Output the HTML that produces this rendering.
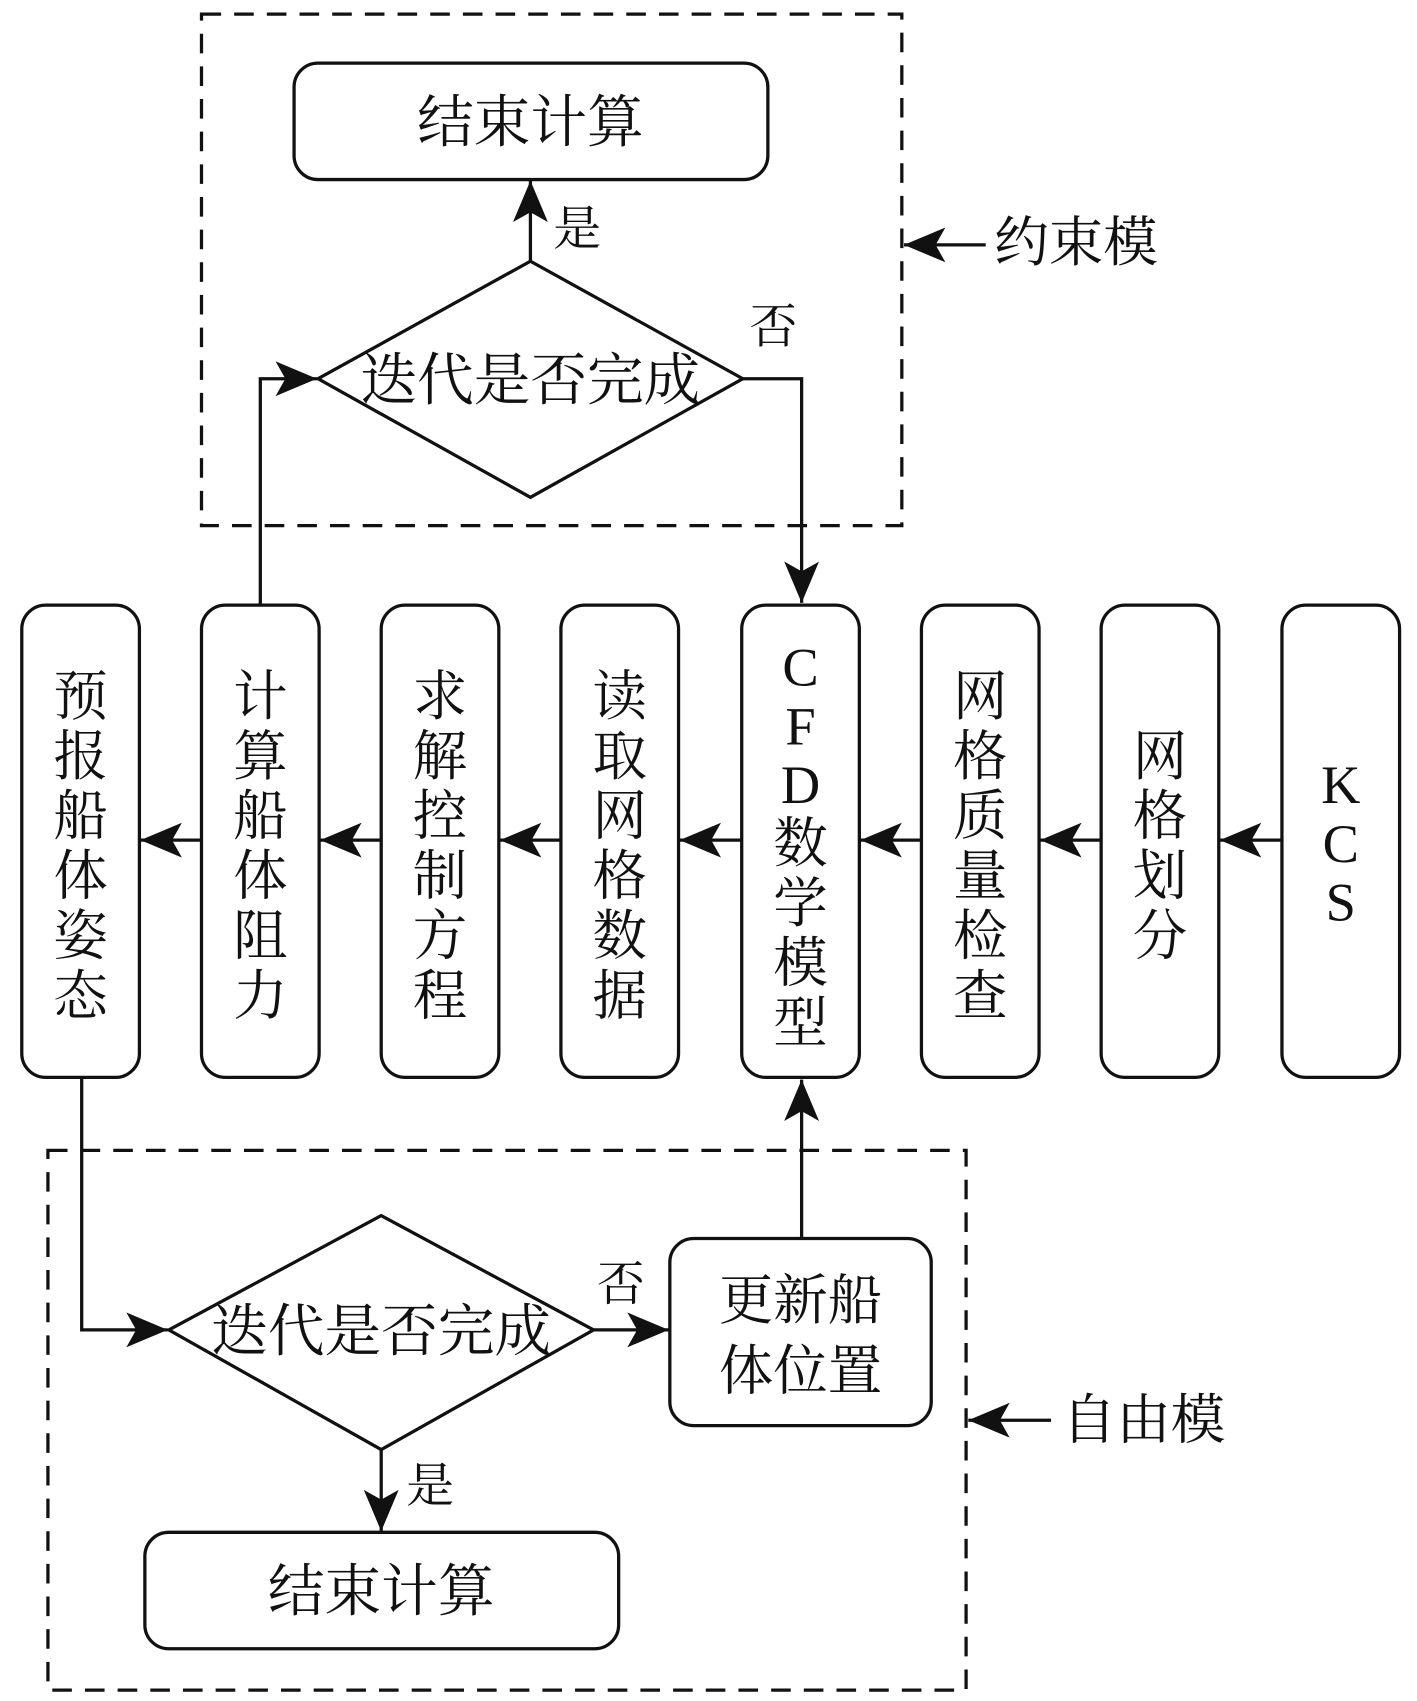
<!DOCTYPE html>
<html><head><meta charset="utf-8"><style>
html,body{margin:0;padding:0;background:#fff}
svg{display:block}
text{font-family:"Liberation Serif","Noto Serif CJK SC","Noto Serif CJK JP",serif;fill:#111}
</style></head><body>
<svg width="1417" height="1701" viewBox="0 0 1301 1563" preserveAspectRatio="none" xmlns="http://www.w3.org/2000/svg">
<defs>
<marker id="a" markerUnits="userSpaceOnUse" markerWidth="40" markerHeight="34" refX="38" refY="16" orient="auto">
<path d="M0,0 L38,16 L0,32 L9,16 Z" fill="#111"/>
</marker>
</defs>
<g fill="none" stroke="#111" stroke-width="3">
<rect x="185" y="13" width="643" height="470" stroke-dasharray="18,12"/>
<rect x="44" y="1057" width="843" height="496" stroke-dasharray="18,12"/>
<rect x="270" y="58" width="435" height="107" rx="22"/>
<rect x="133" y="1408" width="435" height="107" rx="22"/>
<rect x="615" y="1138" width="240" height="172" rx="22"/>
<polygon points="292,348 487,240 682,348 487,457"/>
<polygon points="155,1222 350,1117 545,1222 350,1332"/>
<rect x="20" y="556" width="108" height="434" rx="22"/>
<rect x="185" y="556" width="108" height="434" rx="22"/>
<rect x="350" y="556" width="108" height="434" rx="22"/>
<rect x="515" y="556" width="108" height="434" rx="22"/>
<rect x="681" y="556" width="108" height="434" rx="22"/>
<rect x="846" y="556" width="108" height="434" rx="22"/>
<rect x="1011" y="556" width="108" height="434" rx="22"/>
<rect x="1177" y="556" width="108" height="434" rx="22"/>
<g marker-end="url(#a)">
<line x1="487" y1="240" x2="487" y2="166"/>
<polyline points="682,348 736,348 736,554"/>
<polyline points="239,556 239,348 291,348"/>
<line x1="905" y1="225" x2="830" y2="225"/>
<line x1="1177" y1="772" x2="1120" y2="772"/>
<line x1="1011" y1="772" x2="955" y2="772"/>
<line x1="846" y1="772" x2="790" y2="772"/>
<line x1="681" y1="772" x2="624" y2="772"/>
<line x1="515" y1="772" x2="459" y2="772"/>
<line x1="350" y1="772" x2="294" y2="772"/>
<line x1="185" y1="772" x2="129" y2="772"/>
<polyline points="75,990 75,1222 154,1222"/>
<line x1="545" y1="1222" x2="614" y2="1222"/>
<line x1="736" y1="1138" x2="736" y2="992"/>
<line x1="350" y1="1332" x2="350" y2="1407"/>
<line x1="965" y1="1305" x2="889" y2="1305"/>
</g>
</g>
<g font-size="52" text-anchor="middle">
<text x="487" y="130">结束计算</text>
<text x="350" y="1480">结束计算</text>
<text x="487" y="367">迭代是否完成</text>
<text x="350" y="1241">迭代是否完成</text>
<text x="735" y="1212" font-size="50">更新船</text>
<text x="735" y="1277" font-size="50">体位置</text>
<text x="530" y="225" font-size="44">是</text>
<text x="395" y="1380" font-size="44">是</text>
<text x="710" y="315" font-size="44">否</text>
<text x="570" y="1195" font-size="44">否</text>
</g>
<g font-size="50">
<text x="913" y="240">约束模</text>
<text x="975" y="1322">自由模</text>
</g>
<g font-size="50" text-anchor="middle">
<text x="74" y="657">预</text><text x="74" y="712">报</text><text x="74" y="767">船</text><text x="74" y="822">体</text><text x="74" y="877">姿</text><text x="74" y="932">态</text>
<text x="239" y="657">计</text><text x="239" y="712">算</text><text x="239" y="767">船</text><text x="239" y="822">体</text><text x="239" y="877">阻</text><text x="239" y="932">力</text>
<text x="404" y="657">求</text><text x="404" y="712">解</text><text x="404" y="767">控</text><text x="404" y="822">制</text><text x="404" y="877">方</text><text x="404" y="932">程</text>
<text x="569" y="657">读</text><text x="569" y="712">取</text><text x="569" y="767">网</text><text x="569" y="822">格</text><text x="569" y="877">数</text><text x="569" y="932">据</text>
<text x="735" y="630">C</text><text x="735" y="684">F</text><text x="735" y="738">D</text><text x="735" y="792">数</text><text x="735" y="847">学</text><text x="735" y="902">模</text><text x="735" y="957">型</text>
<text x="900" y="657">网</text><text x="900" y="712">格</text><text x="900" y="767">质</text><text x="900" y="822">量</text><text x="900" y="877">检</text><text x="900" y="932">查</text>
<text x="1065" y="712">网</text><text x="1065" y="767">格</text><text x="1065" y="822">划</text><text x="1065" y="877">分</text>
<text x="1231" y="738">K</text><text x="1231" y="792">C</text><text x="1231" y="846">S</text>
</g>
</svg>
</body></html>
